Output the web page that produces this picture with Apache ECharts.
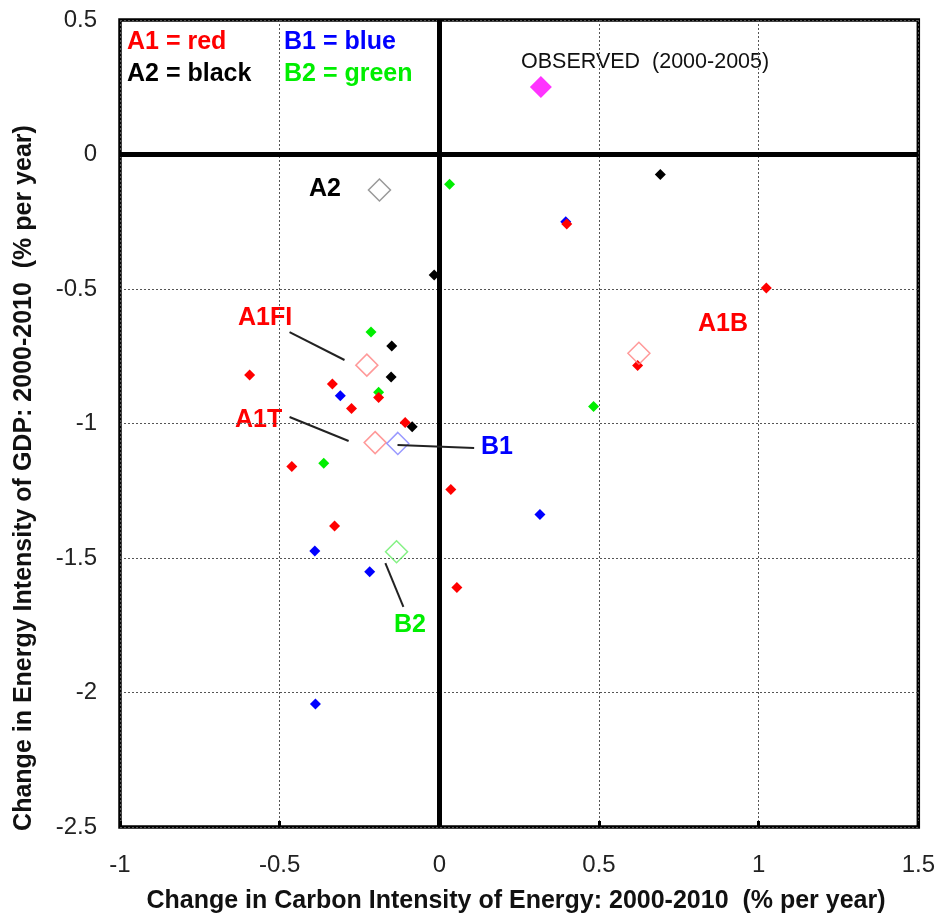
<!DOCTYPE html>
<html>
<head>
<meta charset="utf-8">
<script src="https://cdn.jsdelivr.net/npm/echarts@6/dist/echarts.min.js"></script>
<style>
  html, body { margin: 0; padding: 0; background: #fff; }
  #chart { width: 938px; height: 915px; }
</style>
</head>
<body>
<div id="chart"></div>
<script>
// scenario points, [carbon intensity change, energy intensity change]
var a1Red = [[-0.594, -0.82], [-0.335, -0.853], [-0.275, -0.944], [-0.19, -0.903], [-0.107, -0.996],
  [-0.462, -1.16], [0.036, -1.245], [-0.328, -1.381], [0.055, -1.61], [0.399, -0.258],
  [1.024, -0.496], [0.621, -0.784]];
var b1Blue = [[-0.31, -0.897], [-0.39, -1.474], [-0.218, -1.551], [-0.388, -2.043], [0.396, -0.25], [0.315, -1.338]];
var a2Black = [[-0.149, -0.712], [-0.151, -0.827], [-0.085, -1.012], [0.692, -0.074], [-0.016, -0.448]];
var b2Green = [[-0.214, -0.66], [-0.19, -0.884], [-0.362, -1.148], [0.032, -0.111], [0.483, -0.937]];
var observed = [[0.318, 0.251]];
// scenario means (open diamonds)
var meanNames = ['A2', 'A1FI', 'A1T', 'B1', 'B2', 'A1B'];
var meanPoints = [[-0.1875, -0.132], [-0.227, -0.783], [-0.201, -1.071], [-0.13, -1.074], [-0.134, -1.477], [0.625, -0.739]];
var meanColors = ['#808080', '#ff7f7f', '#ff7f7f', '#7f7fff', '#66ee66', '#ff7f7f'];
var xTicks = [-1, 1.5, 0.5];
var yTicks = [-2.5, 0.5, 0.5];

var font = '"Liberation Sans", Arial, sans-serif';
var chart = echarts.init(document.getElementById('chart'));

function dots(data, color) {
  return {
    type: 'scatter',
    data: data,
    symbol: 'diamond',
    symbolSize: 11,
    itemStyle: { color: color, opacity: 1 },
    silent: true
  };
}

function leader(a, b) {
  return [{ coord: a }, { coord: b }];
}

function txt(x, y, s, color, size, bold) {
  return {
    type: 'text',
    x: x, y: y,
    style: {
      text: s,
      fill: color,
      font: (bold ? 'bold ' : '') + size + 'px ' + font,
      verticalAlign: 'middle'
    }
  };
}

var option = {
  animation: false,
  backgroundColor: '#fff',
  grid: {
    left: 120, top: 20, right: 18, bottom: 88,
    show: true, borderColor: '#000', borderWidth: 3.5
  },
  xAxis: {
    type: 'value',
    min: xTicks[0], max: xTicks[1], interval: xTicks[2],
    axisLine: { show: false, onZero: false },
    axisTick: { show: true, inside: true, length: 6, lineStyle: { color: '#000', width: 3 } },
    axisLabel: { color: '#222', fontSize: 24, fontFamily: font, margin: 26 },
    splitLine: { show: true, lineStyle: { color: '#555', width: 1, type: [2, 2] } }
  },
  yAxis: {
    type: 'value',
    min: yTicks[0], max: yTicks[1], interval: yTicks[2],
    axisLine: { show: false, onZero: false },
    axisTick: { show: false },
    axisLabel: { color: '#222', fontSize: 24, fontFamily: font, margin: 23 },
    splitLine: { show: true, lineStyle: { color: '#555', width: 1, type: [2, 2] } }
  },
  series: [
    dots(b2Green, '#00ee00'),
    dots(b1Blue, '#0000ff'),
    dots(a2Black, '#000000'),
    dots(a1Red, '#ff0000'),
    {
      type: 'scatter',
      data: meanPoints.map(function (p, i) {
        return { name: meanNames[i], value: p, itemStyle: { borderColor: meanColors[i] } };
      }),
      symbol: 'diamond',
      symbolSize: 22,
      itemStyle: { color: 'rgba(255,255,255,0)', borderWidth: 1.5 },
      silent: true
    },
    {
      type: 'scatter',
      data: observed,
      symbol: 'diamond',
      symbolSize: 22,
      itemStyle: { color: '#ff00ff' },
      silent: true
    },
    {
      // zero lines and label leaders
      type: 'scatter',
      data: [],
      z: 10,
      silent: true,
      markLine: {
        silent: true,
        symbol: 'none',
        label: { show: false },
        animation: false,
        data: [
          { xAxis: 0, lineStyle: { color: '#000', width: 5, type: 'solid' } },
          { yAxis: 0, lineStyle: { color: '#000', width: 5, type: 'solid' } },
          leader([-0.469, -0.66], [-0.297, -0.764]),
          leader([-0.469, -0.976], [-0.284, -1.065]),
          leader([-0.131, -1.08], [0.109, -1.091]),
          leader([-0.169, -1.519], [-0.1125, -1.682])
        ],
        lineStyle: { color: '#222', width: 2, type: 'solid' }
      }
    }
  ],
  graphic: [
    txt(127, 42, 'A1 = red', '#ff0000', 25, true),
    txt(127, 74, 'A2 = black', '#000', 25, true),
    txt(284, 42, 'B1 = blue', '#0000ff', 25, true),
    txt(284, 74, 'B2 = green', '#00ee00', 25, true),
    txt(521, 62, 'OBSERVED  (2000-2005)', '#111', 21.5, false),
    txt(309, 189, 'A2', '#000', 25, true),
    txt(238, 318, 'A1FI', '#ff0000', 25, true),
    txt(235, 420, 'A1T', '#ff0000', 25, true),
    txt(481, 447, 'B1', '#0000ff', 25, true),
    txt(698, 324, 'A1B', '#ff0000', 25, true),
    txt(394, 625, 'B2', '#00ee00', 25, true),
    {
      type: 'text',
      x: 516, y: 901,
      style: {
        text: 'Change in Carbon Intensity of Energy: 2000-2010  (% per year)',
        fill: '#111', font: 'bold 25px ' + font, align: 'center', verticalAlign: 'middle'
      }
    },
    {
      type: 'text',
      x: 24, y: 478,
      rotation: Math.PI / 2,
      style: {
        text: 'Change in Energy Intensity of GDP: 2000-2010  (% per year)',
        fill: '#111', font: 'bold 25px ' + font, align: 'center', verticalAlign: 'middle'
      }
    }
  ]
};

chart.setOption(option);
</script>
</body>
</html>
